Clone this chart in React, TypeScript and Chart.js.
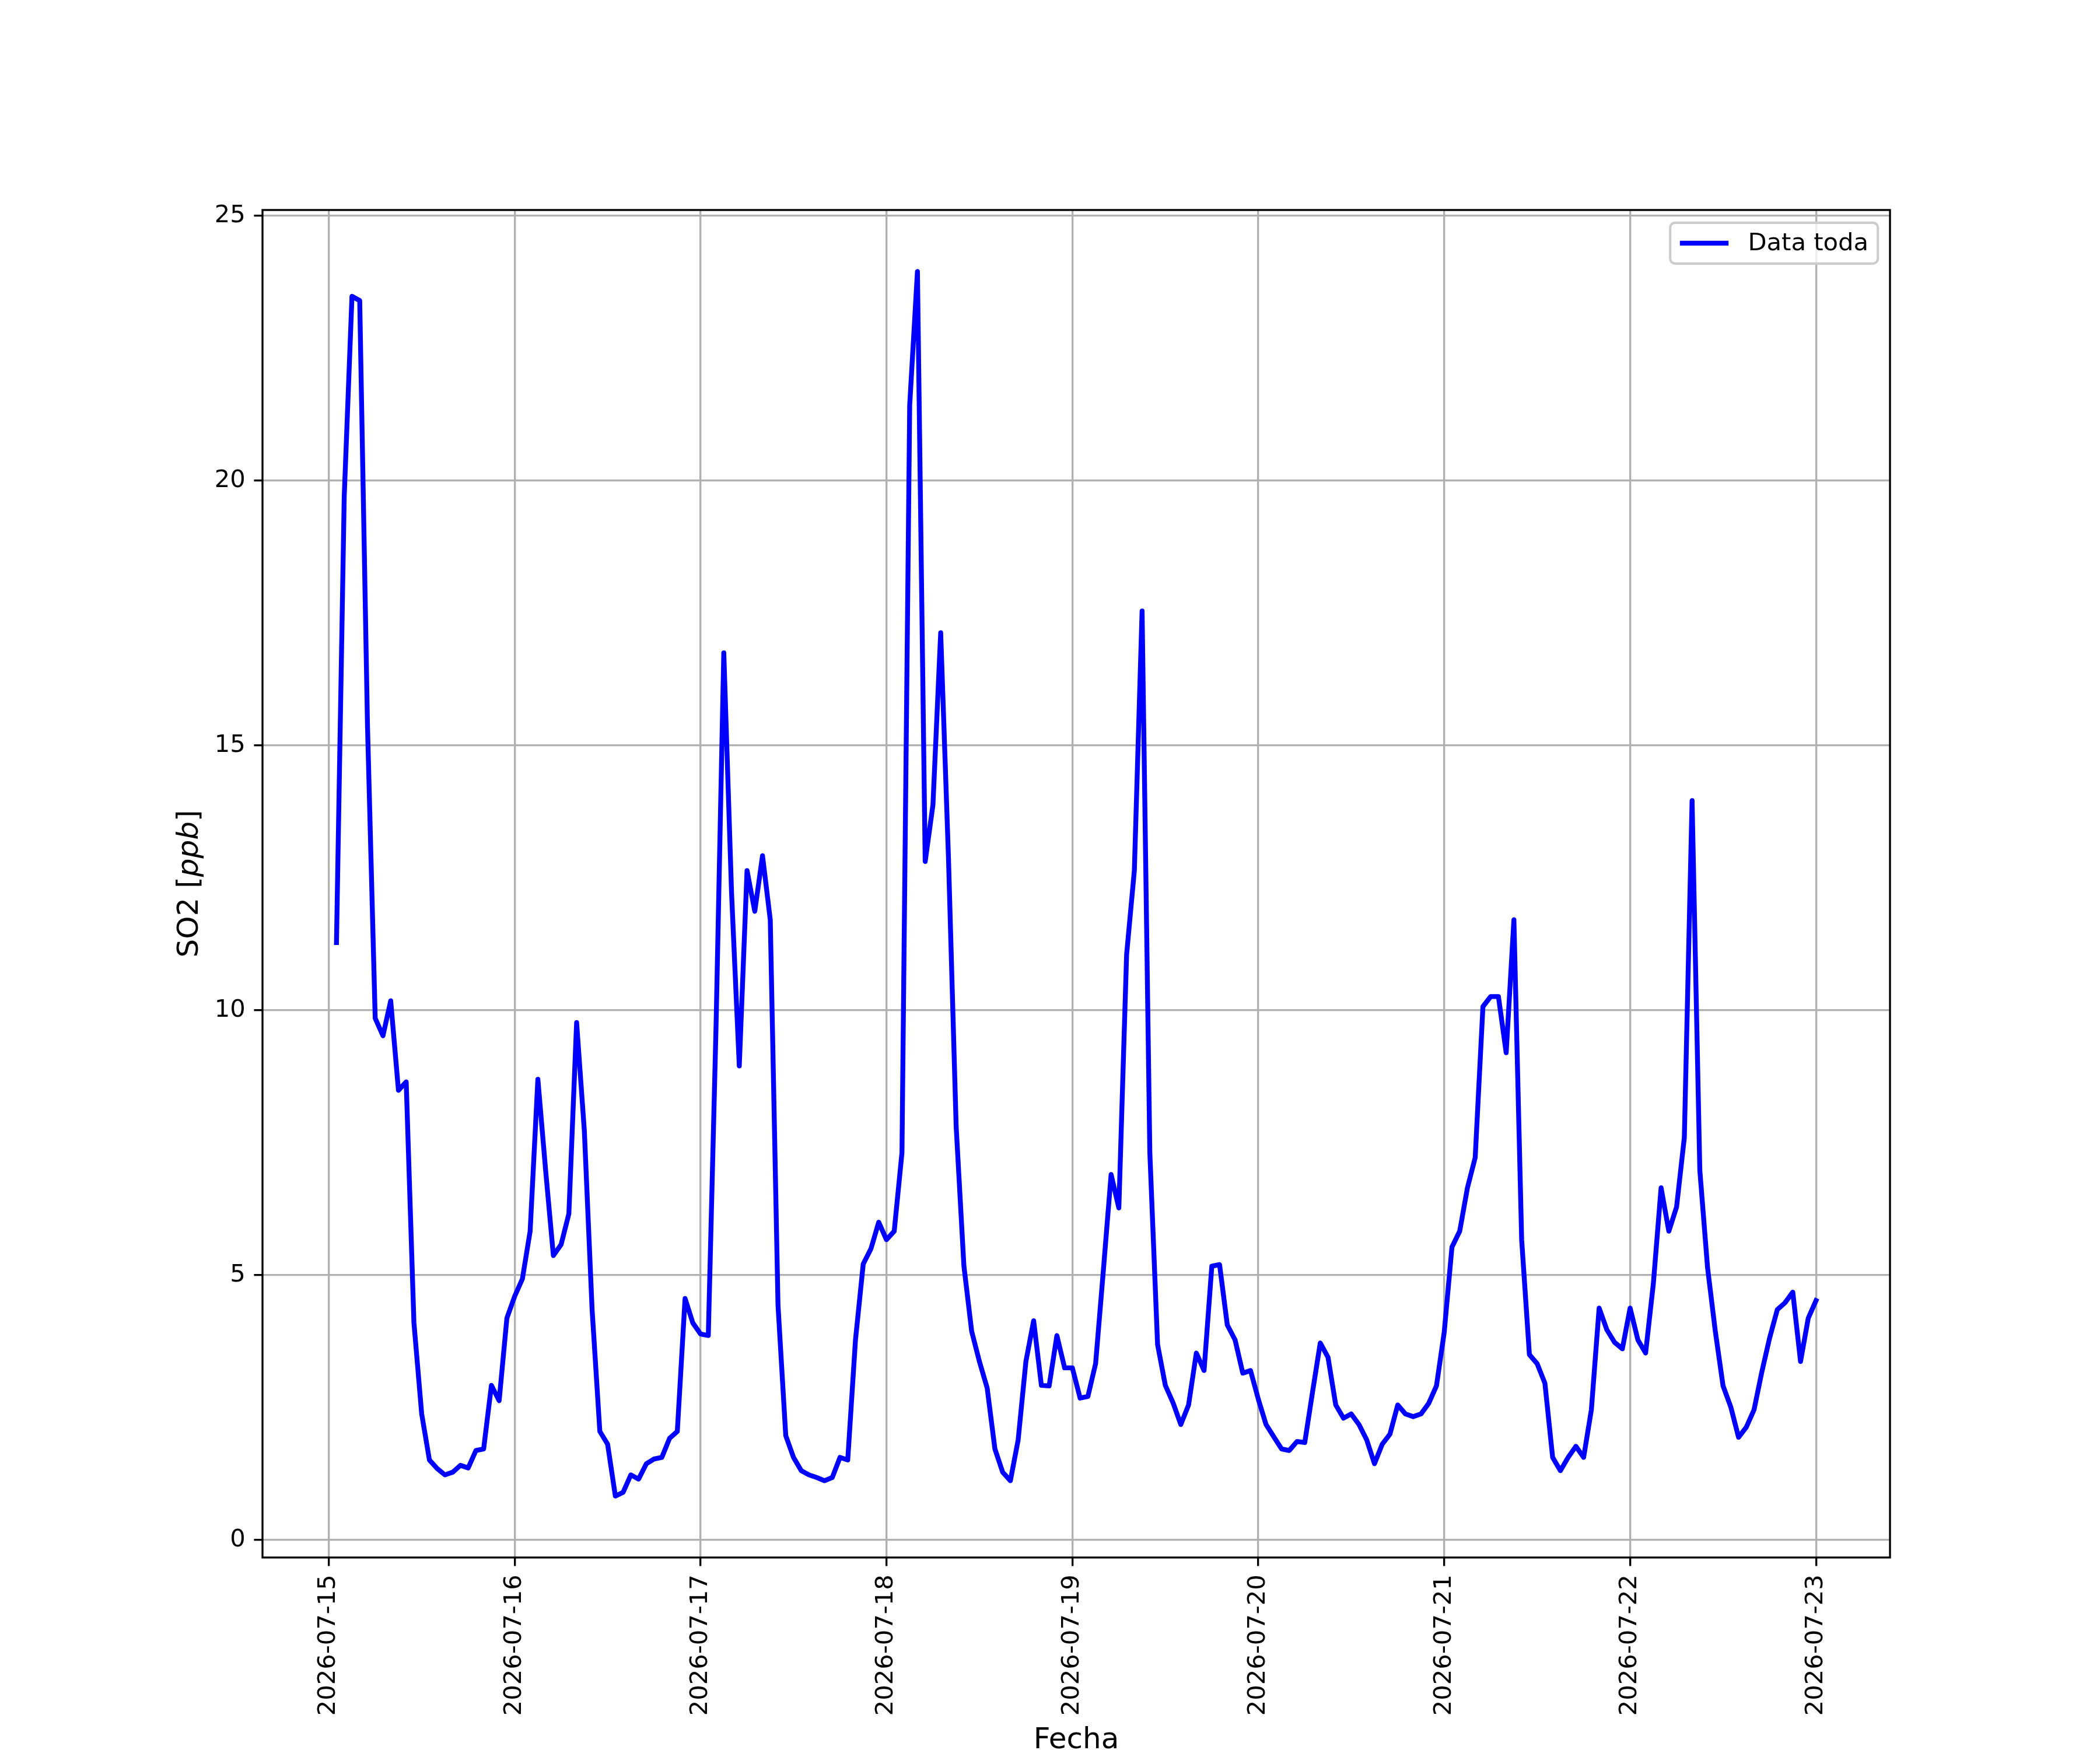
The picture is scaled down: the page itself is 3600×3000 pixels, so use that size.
import { useEffect, useRef } from 'react';
import { Chart, registerables } from 'chart.js';

Chart.register(...registerables);

// hours since 2026-07-15 00:00, one reading per hour starting at 01:00
const firstHour = 1;
const dayTicks = [0, 24, 48, 72, 96, 120, 144, 168, 192];
const dayLabels = ['2026-07-15', '2026-07-16', '2026-07-17', '2026-07-18', '2026-07-19', '2026-07-20', '2026-07-21', '2026-07-22', '2026-07-23'];
const yTicks = [0, 5, 10, 15, 20, 25];
const seriesLabel = 'Data toda';

const so2 = [
    11.28, 19.7, 23.48, 23.4, 15.4, 9.85, 9.52, 10.18, 8.49, 8.65, 4.1, 2.38, 1.51, 1.35, 1.23, 1.28, 1.41, 1.36, 1.69, 1.72, 2.92, 2.63, 4.19, 4.6,
    4.93, 5.83, 8.7, 6.98, 5.37, 5.58, 6.16, 9.77, 7.72, 4.35, 2.05, 1.81, 0.83, 0.9, 1.23, 1.15, 1.44, 1.53, 1.56, 1.92, 2.05, 4.56, 4.1, 3.89,
    3.86, 9.7, 16.75, 12.23, 8.95, 12.64, 11.87, 12.92, 11.71, 4.43, 1.97, 1.56, 1.31, 1.23, 1.18, 1.12, 1.18, 1.56, 1.51, 3.78, 5.21, 5.5, 6.0, 5.67,
    5.83, 7.31, 21.43, 23.95, 12.81, 13.88, 17.13, 12.9, 7.8, 5.17, 3.94, 3.37, 2.87, 1.72, 1.28, 1.12, 1.89, 3.37, 4.14, 2.92, 2.91, 3.86, 3.25, 3.25,
    2.68, 2.71, 3.33, 5.09, 6.9, 6.27, 11.05, 12.64, 17.54, 7.31, 3.69, 2.92, 2.59, 2.18, 2.55, 3.53, 3.2, 5.17, 5.2, 4.06, 3.78, 3.15, 3.2, 2.66,
    2.18, 1.95, 1.72, 1.69, 1.86, 1.84, 2.79, 3.72, 3.45, 2.55, 2.3, 2.38, 2.18, 1.89, 1.44, 1.81, 2.0, 2.55, 2.38, 2.33, 2.38, 2.58, 2.91, 3.92,
    5.53, 5.83, 6.65, 7.22, 10.07, 10.26, 10.26, 9.2, 11.71, 5.67, 3.5, 3.33, 2.96, 1.56, 1.31, 1.56, 1.77, 1.56, 2.46, 4.38, 3.97, 3.73, 3.61, 4.38,
    3.78, 3.53, 4.84, 6.65, 5.83, 6.29, 7.6, 13.96, 6.98, 5.14, 3.94, 2.91, 2.51, 1.94, 2.13, 2.46, 3.17, 3.81, 4.35, 4.48, 4.68, 3.37, 4.19, 4.52,
];

const PT = 300 / 72;
const FONT_SIZE = 10 * PT;
const LABEL_SIZE = 12 * PT;
const LINE_WIDTH = 2 * PT;
const FAMILY = '"DejaVu Sans"';

// axes frame, legend and axis labels, drawn the matplotlib way
const decorations = {
    id: 'decorations',
    afterDatasetsDraw(chart: any) {
        const { ctx, chartArea: a } = chart;
        ctx.save();
        ctx.strokeStyle = '#000000';
        ctx.lineWidth = 0.8 * PT;
        ctx.strokeRect(a.left, a.top, a.right - a.left, a.bottom - a.top);

        // legend box, upper right
        const boxRight = a.right - 0.5 * FONT_SIZE;
        const boxTop = a.top + 0.5 * FONT_SIZE + 1;
        const boxW = 356;
        const boxH = 70;
        const boxLeft = boxRight - boxW;
        ctx.beginPath();
        ctx.roundRect(boxLeft, boxTop, boxW, boxH, 0.2 * FONT_SIZE);
        ctx.fillStyle = 'rgba(255,255,255,0.8)';
        ctx.fill();
        ctx.strokeStyle = '#cccccc';
        ctx.lineWidth = 1.0 * PT;
        ctx.stroke();

        const midY = boxTop + boxH / 2;
        const lineX0 = boxLeft + 0.4 * FONT_SIZE;
        const lineX1 = lineX0 + 2 * FONT_SIZE;
        ctx.beginPath();
        ctx.moveTo(lineX0, midY);
        ctx.lineTo(lineX1, midY);
        ctx.strokeStyle = '#0000ff';
        ctx.lineWidth = LINE_WIDTH;
        ctx.stroke();

        ctx.fillStyle = '#000000';
        ctx.font = `${FONT_SIZE}px ${FAMILY}`;
        ctx.textAlign = 'left';
        ctx.textBaseline = 'middle';
        ctx.fillText(seriesLabel, lineX1 + 0.8 * FONT_SIZE, midY + 1);
        ctx.restore();
    },
    afterDraw(chart: any) {
        const { ctx, chartArea: a } = chart;
        ctx.save();
        ctx.fillStyle = '#000000';
        ctx.textBaseline = 'alphabetic';

        // x label
        ctx.font = `${LABEL_SIZE}px ${FAMILY}`;
        ctx.textAlign = 'center';
        ctx.fillText('Fecha', (a.left + a.right) / 2, 2997);

        // y label with italic unit
        const parts = [
            { text: 'SO2 [', font: `${LABEL_SIZE}px ${FAMILY}` },
            { text: 'ppb', font: `italic ${LABEL_SIZE}px ${FAMILY}` },
            { text: ']', font: `${LABEL_SIZE}px ${FAMILY}` },
        ];
        let total = 0;
        const widths = parts.map(p => {
            ctx.font = p.font;
            const w = ctx.measureText(p.text).width;
            total += w;
            return w;
        });
        ctx.translate(339, (a.top + a.bottom) / 2);
        ctx.rotate(-Math.PI / 2);
        ctx.textAlign = 'left';
        let x = -total / 2;
        parts.forEach((p, i) => {
            ctx.font = p.font;
            ctx.fillText(p.text, x, 0);
            x += widths[i];
        });
        ctx.restore();
    },
};

const gridOpts = {
    color: '#b0b0b0',
    lineWidth: 0.8 * PT,
    tickColor: '#000000',
    tickWidth: 0.8 * PT,
    tickLength: 3.5 * PT,
};

export const So2Chart = () => {
    const chartRef = useRef<HTMLCanvasElement>(null);

    useEffect(() => {
        const points = so2.map((v, i) => ({ x: firstHour + i, y: v }));
        const config: any = {
            type: 'line',
            data: {
                datasets: [{
                    label: seriesLabel,
                    data: points,
                    borderColor: '#0000ff',
                    backgroundColor: '#0000ff',
                    borderWidth: LINE_WIDTH,
                    borderJoinStyle: 'round',
                    borderCapStyle: 'square',
                    pointRadius: 0,
                    tension: 0,
                    fill: false,
                }],
            },
            options: {
                animation: false,
                responsive: false,
                devicePixelRatio: 1,
                events: [],
                layout: { padding: { left: 0, top: 360, right: 360, bottom: 0 } },
                font: { family: FAMILY, size: FONT_SIZE },
                plugins: {
                    legend: { display: false },
                    tooltip: { enabled: false },
                },
                scales: {
                    x: {
                        type: 'linear',
                        bounds: 'data',
                        min: -8.55,
                        max: 201.55,
                        afterBuildTicks: (s: any) => { s.ticks = dayTicks.map(v => ({ value: v })); },
                        afterFit: (s: any) => { s.height = 330; },
                        grid: gridOpts,
                        border: { display: false },
                        ticks: {
                            autoSkip: false,
                            minRotation: 90,
                            maxRotation: 90,
                            padding: 3.5 * PT,
                            color: '#000000',
                            font: { family: FAMILY, size: FONT_SIZE },
                            callback: (_v: any, i: number) => dayLabels[i],
                        },
                    },
                    y: {
                        type: 'linear',
                        bounds: 'data',
                        min: -0.33,
                        max: 25.11,
                        afterBuildTicks: (s: any) => { s.ticks = yTicks.map(v => ({ value: v })); },
                        afterFit: (s: any) => { s.width = 450; },
                        grid: gridOpts,
                        border: { display: false },
                        ticks: {
                            padding: 3.5 * PT,
                            color: '#000000',
                            font: { family: FAMILY, size: FONT_SIZE },
                            callback: (v: any) => String(v),
                        },
                    },
                },
            },
            plugins: [decorations],
        };

        const myChart = new Chart(chartRef.current as HTMLCanvasElement, config);

        return () => {
            myChart.destroy();
        };
    }, []);

    return (
        <canvas ref={chartRef} width={3600} height={3000} style={{ display: 'block' }}></canvas>
    );
};

export default function App() {
    return (
        <div style={{ position: 'absolute', left: 0, top: 0, width: 3600, height: 3000, background: '#ffffff' }}>
            <So2Chart />
        </div>
    );
}
